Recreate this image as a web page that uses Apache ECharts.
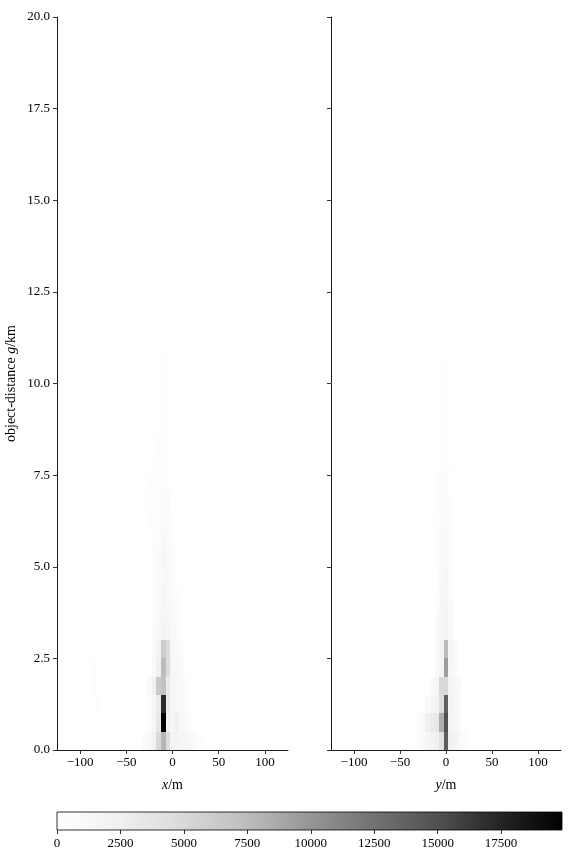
<!DOCTYPE html>
<html>
<head>
<meta charset="utf-8">
<script src="https://cdn.jsdelivr.net/npm/echarts@6/dist/echarts.min.js"></script>
<style>html,body{margin:0;padding:0;background:#fff}#c{width:576px;height:864px}</style>
</head>
<body>
<div id="c"></div>
<script>
// Bin sizes: 5 m across, 0.5 km in object-distance. Cells: [binCentre m, distanceCentre km, count]
const leftCells = [
  [-30,0.25,600],[-25,0.25,1200],[-20,0.25,2000],[-15,0.25,5000],[-10,0.25,8000],[-5,0.25,4500],[0,0.25,2000],[5,0.25,1800],[10,0.25,1500],[15,0.25,1500],[20,0.25,1200],[25,0.25,800],[30,0.25,400],
  [-25,0.75,700],[-20,0.75,1500],[-15,0.75,3500],[-10,0.75,19900],[-5,0.75,2500],[0,0.75,1500],[5,0.75,2500],[10,0.75,1200],[15,0.75,800],[20,0.75,500],
  [-25,1.25,600],[-20,1.25,1500],[-15,1.25,3000],[-10,1.25,17000],[-5,1.25,3000],[0,1.25,1500],[5,1.25,1200],[10,1.25,1000],[15,1.25,500],[-80,1.25,250],
  [-25,1.75,800],[-20,1.75,2500],[-15,1.75,6500],[-10,1.75,7000],[-5,1.75,3000],[0,1.75,1500],[5,1.75,1200],[10,1.75,1000],[15,1.75,500],[-85,1.75,300],
  [-20,2.25,1000],[-15,2.25,2500],[-10,2.25,7500],[-5,2.25,4500],[0,2.25,1500],[5,2.25,1200],[10,2.25,600],[-85,2.25,250],
  [-20,2.75,800],[-15,2.75,1800],[-10,2.75,6000],[-5,2.75,4500],[0,2.75,1200],[5,2.75,1000],[10,2.75,500],
  [-20,3.25,600],[-15,3.25,1200],[-10,3.25,2000],[-5,3.25,1800],[0,3.25,1000],[5,3.25,700],
  [-20,3.75,500],[-15,3.75,1000],[-10,3.75,1500],[-5,3.75,1500],[0,3.75,900],[5,3.75,500],
  [-20,4.25,400],[-15,4.25,800],[-10,4.25,1500],[-5,4.25,1200],[0,4.25,700],[5,4.25,300],
  [-20,4.75,300],[-15,4.75,700],[-10,4.75,1200],[-5,4.75,1300],[0,4.75,600],
  [-20,5.25,300],[-15,5.25,600],[-10,5.25,1300],[-5,5.25,1000],[0,5.25,500],
  [-20,5.75,300],[-15,5.75,500],[-10,5.75,1000],[-5,5.75,900],[0,5.75,400],
  [-25,6.25,300],[-20,6.25,400],[-15,6.25,500],[-10,6.25,700],[-5,6.25,800],[0,6.25,300],
  [-30,6.75,200],[-25,6.75,300],[-20,6.75,400],[-15,6.75,500],[-10,6.75,600],[-5,6.75,500],
  [-25,7.25,250],[-20,7.25,300],[-15,7.25,400],[-10,7.25,500],[-5,7.25,400],
  [-20,7.75,250],[-15,7.75,300],[-10,7.75,400],[-5,7.75,350],
  [-15,8.25,250],[-10,8.25,350],[-5,8.25,300],
  [-15,8.75,200],[-10,8.75,300],[-5,8.75,250],
  [-15,9.25,150],[-10,9.25,300],[-5,9.25,200],
  [-10,9.75,250],[-5,9.75,200],
  [-10,10.25,200],[-5,10.25,150],
  [-10,10.75,150],[-5,10.75,100]
];
const rightCells = [
  [-30,0.25,400],[-25,0.25,800],[-20,0.25,1500],[-15,0.25,2000],[-10,0.25,2500],[-5,0.25,4000],[0,0.25,14000],[5,0.25,2500],[10,0.25,1800],[15,0.25,1000],[20,0.25,600],
  [-30,0.75,500],[-25,0.75,1000],[-20,0.75,2500],[-15,0.75,3000],[-10,0.75,3500],[-5,0.75,8500],[0,0.75,15000],[5,0.75,2000],[10,0.75,1500],[15,0.75,800],
  [-20,1.25,1000],[-15,1.25,1500],[-10,1.25,2000],[-5,1.25,4500],[0,1.25,14000],[5,1.25,2000],[10,1.25,1200],[15,1.25,600],
  [-15,1.75,1000],[-10,1.75,1500],[-5,1.75,5000],[0,1.75,5000],[5,1.75,1800],[10,1.75,1200],[15,1.75,800],
  [-10,2.25,1000],[-5,2.25,2000],[0,2.25,9500],[5,2.25,1500],[10,2.25,800],
  [-10,2.75,800],[-5,2.75,1800],[0,2.75,7500],[5,2.75,1500],[10,2.75,600],
  [-10,3.25,600],[-5,3.25,1500],[0,3.25,2000],[5,3.25,1000],
  [-10,3.75,500],[-5,3.75,1500],[0,3.75,1800],[5,3.75,800],
  [-10,4.25,400],[-5,4.25,1300],[0,4.25,1500],[5,4.25,600],
  [-5,4.75,1200],[0,4.75,1500],[5,4.75,500],
  [-10,5.25,400],[-5,5.25,1000],[0,5.25,1200],[5,5.25,400],
  [-10,5.75,400],[-5,5.75,900],[0,5.75,900],[5,5.75,300],
  [-15,6.25,250],[-10,6.25,350],[-5,6.25,700],[0,6.25,900],[5,6.25,300],
  [-10,6.75,300],[-5,6.75,600],[0,6.75,700],[5,6.75,300],[15,6.75,150],
  [-10,7.25,300],[-5,7.25,500],[0,7.25,600],
  [-5,7.75,400],[0,7.75,500],[5,7.75,200],
  [-5,8.25,350],[0,8.25,450],
  [-5,8.75,300],[0,8.75,400],
  [-5,9.25,250],[0,9.25,350],
  [-5,9.75,200],[0,9.75,300],
  [-5,10.25,150],[0,10.25,250],
  [0,10.75,150]
];
const acrossTicks = [-100, -50, 0, 50, 100];
const cbTicks = [0, 2500, 5000, 7500, 10000, 12500, 15000, 17500];
const cbMax = 19900;
const greys = ['#ffffff','#f0f0f0','#d9d9d9','#bdbdbd','#969696','#737373','#525252','#252525','#000000'];

const FONT = 'Liberation Serif';
const FS = 13;
const NAME_FS = 14;
const BIN_W = 5, BIN_H = 0.5;

function cellRender(params, api) {
  const c = api.value(0), d = api.value(1);
  const p0 = api.coord([c - BIN_W / 2, d + BIN_H / 2]);
  const p1 = api.coord([c + BIN_W / 2, d - BIN_H / 2]);
  const x0 = Math.round(p0[0]), x1 = Math.round(p1[0]);
  const y0 = Math.round(p0[1]), y1 = Math.round(p1[1]);
  return {
    type: 'rect',
    shape: { x: x0, y: y0, width: x1 - x0, height: y1 - y0 },
    style: { fill: api.visual('color') }
  };
}

function cbRender(params, api) {
  const p0 = api.coord([api.value(0), 1]);
  const p1 = api.coord([api.value(1), 0]);
  return {
    type: 'rect',
    shape: { x: p0[0], y: p0[1], width: p1[0] - p0[0], height: p1[1] - p0[1] },
    style: {
      fill: {
        type: 'linear', x: 0, y: 0, x2: 1, y2: 0,
        colorStops: greys.map((col, i) => ({ offset: i / (greys.length - 1), color: col }))
      },
      stroke: '#000', lineWidth: 0.8
    }
  };
}

const minus = v => (v < 0 ? '\u2212' + Math.abs(v) : String(v));
const lbl = { fontFamily: FONT, fontSize: FS, color: '#000' };
const nameLbl = { fontFamily: FONT, fontSize: NAME_FS, color: '#000' };
const axLine = { show: true, onZero: false, lineStyle: { color: '#000', width: 0.9 } };
const axTick = { show: true, inside: false, length: 4, lineStyle: { color: '#000', width: 0.8 } };

function acrossAxis(gridIndex, letter) {
  return {
    type: 'value', gridIndex, min: -125, max: 125,
    axisLine: axLine,
    axisTick: Object.assign({}, axTick, { customValues: acrossTicks }),
    axisLabel: Object.assign({}, lbl, { customValues: acrossTicks, formatter: minus, margin: 6 }),
    splitLine: { show: false },
    name: '{i|' + letter + '}/m', nameLocation: 'middle', nameGap: 28,
    nameTextStyle: Object.assign({}, nameLbl, { rich: { i: Object.assign({}, nameLbl, { fontStyle: 'italic' }) } })
  };
}
function distAxis(gridIndex, showLabels) {
  const ax = {
    type: 'value', gridIndex, min: 0, max: 20, interval: 2.5,
    axisLine: axLine,
    axisTick: axTick,
    axisLabel: Object.assign({}, lbl, { show: showLabels, formatter: v => v.toFixed(1), margin: 7 }),
    splitLine: { show: false }
  };
  if (showLabels) {
    ax.name = 'object-distance {i|g}/km';
    ax.nameLocation = 'middle';
    ax.nameGap = 39;
    ax.nameTextStyle = Object.assign({}, nameLbl, { rich: { i: Object.assign({}, nameLbl, { fontStyle: 'italic' }) } });
  }
  return ax;
}

const chart = echarts.init(document.getElementById('c'), null, { renderer: 'canvas' });
chart.setOption({
  backgroundColor: '#ffffff',
  animation: false,
  grid: [
    { left: 57, top: 17, width: 231, height: 733 },
    { left: 331, top: 17, width: 230, height: 733 },
    { left: 57, top: 812, width: 505, height: 18 }
  ],
  xAxis: [
    acrossAxis(0, 'x'),
    acrossAxis(1, 'y'),
    {
      type: 'value', gridIndex: 2, min: 0, max: cbMax,
      axisLine: { show: false },
      axisTick: Object.assign({}, axTick, { customValues: cbTicks }),
      axisLabel: Object.assign({}, lbl, { customValues: cbTicks, formatter: v => String(v), margin: 7 }),
      splitLine: { show: false }
    }
  ],
  yAxis: [
    distAxis(0, true),
    distAxis(1, false),
    { type: 'value', gridIndex: 2, min: 0, max: 1, show: false }
  ],
  visualMap: {
    show: false, type: 'continuous', seriesIndex: [0, 1], dimension: 2,
    min: 0, max: cbMax, inRange: { color: greys }
  },
  series: [
    { type: 'custom', xAxisIndex: 0, yAxisIndex: 0, renderItem: cellRender, data: leftCells, encode: { x: 0, y: 1 }, clip: true },
    { type: 'custom', xAxisIndex: 1, yAxisIndex: 1, renderItem: cellRender, data: rightCells, encode: { x: 0, y: 1 }, clip: true },
    { type: 'custom', xAxisIndex: 2, yAxisIndex: 2, renderItem: cbRender, data: [[0, cbMax]], encode: { x: [0, 1] } }
  ]
});
</script>
</body>
</html>
